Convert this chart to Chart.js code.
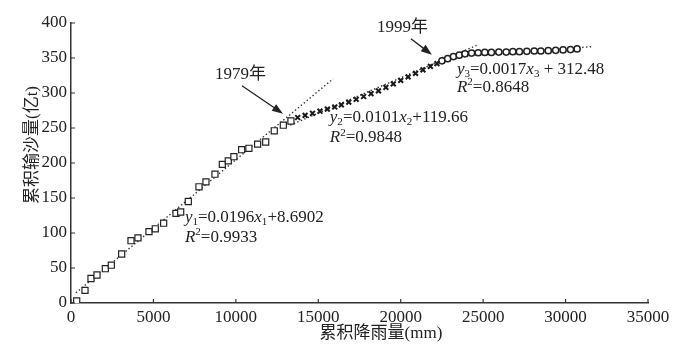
<!DOCTYPE html>
<html>
<head>
<meta charset="utf-8">
<script src="https://cdn.jsdelivr.net/npm/chart.js@4.4.1/dist/chart.umd.min.js"></script>
<style>html,body{margin:0;padding:0;background:#fff}</style>
</head>
<body>
<canvas id="chart" width="681" height="354"></canvas>
<script>
// 1979年以前 (squares)
const rain1 = [345, 850, 1213, 1577, 2082, 2446, 3073, 3639, 4063, 4730, 5112, 5620, 6368, 6653,
  7115, 7762, 8187, 8733, 9180, 9540, 9880, 10350, 10790, 11320, 11810, 12330, 12880, 13340];
const sed1 = [3, 18, 35, 40, 49, 54, 70, 89, 93, 102, 106, 114, 128, 130,
  145, 166, 173, 184, 198, 203, 209, 219, 221, 227, 230, 246, 254, 260];
// 1979-1999 (x marks)
const rain2 = [13750, 14200, 14650, 15100, 15550, 16000, 16400, 16850, 17300, 17750,
  18200, 18650, 19100, 19550, 20000, 20450, 20900, 21350, 21800, 22200];
const sed2 = [265, 268, 271, 274, 277, 280, 283, 287, 291, 295,
  299, 303, 308, 313, 318, 323, 328, 333, 338, 342];
// 1999年以后 (circles)
const rain3 = [22500, 22850, 23200, 23550, 23900, 24300, 24700, 25100, 25500, 25950, 26400,
  26800, 27200, 27650, 28100, 28500, 28950, 29400, 29850, 30300, 30700];
const sed3 = [346, 349, 352, 354, 356, 357, 357.5, 358, 358, 358.5, 358.5,
  359, 359, 359.5, 360, 360, 360.5, 361, 361.5, 362, 363];
// fitted lines (end points)
const fit1 = [[300, 14.6], [15900, 320.3]];
const fit2 = [[13300, 254.0], [24600, 368.1]];
const fit3 = [[22500, 350.7], [31700, 366.4]];

const xTicks = [0, 5000, 10000, 15000, 20000, 25000, 30000, 35000];
const yTicks = [0, 50, 100, 150, 200, 250, 300, 350, 400];

const FONT = '"Liberation Serif", "Times New Roman", "Noto Sans CJK SC", serif';
const INK = '#222';

const pts = (xs, ys) => xs.map((x, i) => ({ x: x, y: ys[i] }));
const line = arr => arr.map(p => ({ x: p[0], y: p[1] }));

function drawRuns(ctx, x, y, parts, size) {
  let cx = x;
  ctx.textBaseline = 'middle';
  ctx.textAlign = 'left';
  for (const [t, s] of parts) {
    let fs = size, dy = 0, st = '';
    if (s === 'i') st = 'italic ';
    if (s === 'sub') { fs = size * 0.65; dy = size * 0.26; }
    if (s === 'sup') { fs = size * 0.65; dy = -size * 0.3; }
    ctx.font = st + fs + 'px ' + FONT;
    ctx.fillText(t, cx, y + dy);
    cx += ctx.measureText(t).width;
  }
}

function arrow(ctx, x1, y1, x2, y2) {
  const a = Math.atan2(y2 - y1, x2 - x1);
  const hl = 11, hw = 4;
  ctx.beginPath();
  ctx.moveTo(x1, y1);
  ctx.lineTo(x2 - Math.cos(a) * hl * 0.8, y2 - Math.sin(a) * hl * 0.8);
  ctx.lineWidth = 1.3;
  ctx.strokeStyle = INK;
  ctx.stroke();
  ctx.beginPath();
  ctx.moveTo(x2, y2);
  ctx.lineTo(x2 - Math.cos(a) * hl - Math.sin(a) * hw, y2 - Math.sin(a) * hl + Math.cos(a) * hw);
  ctx.lineTo(x2 - Math.cos(a) * hl + Math.sin(a) * hw, y2 - Math.sin(a) * hl - Math.cos(a) * hw);
  ctx.closePath();
  ctx.fillStyle = INK;
  ctx.fill();
}

const extras = {
  id: 'extras',
  afterDraw(chart) {
    const ctx = chart.ctx;
    const xs = chart.scales.x, ys = chart.scales.y;
    const X = v => xs.getPixelForValue(v), Y = v => ys.getPixelForValue(v);
    ctx.save();
    // inward ticks
    ctx.strokeStyle = '#333';
    ctx.lineWidth = 1.2;
    ctx.beginPath();
    xTicks.forEach(v => { ctx.moveTo(X(v), ys.bottom); ctx.lineTo(X(v), ys.bottom - 4); });
    yTicks.forEach(v => { ctx.moveTo(xs.left, Y(v)); ctx.lineTo(xs.left + 4, Y(v)); });
    ctx.stroke();

    ctx.fillStyle = INK;
    const fs = 17;
    drawRuns(ctx, X(6910), Y(122), [['y', 'i'], ['1', 'sub'], ['=0.0196', ''], ['x', 'i'], ['1', 'sub'], ['+8.6902', '']], fs);
    drawRuns(ctx, X(6910), Y(94), [['R', 'i'], ['2', 'sup'], ['=0.9933', '']], fs);
    drawRuns(ctx, X(15700), Y(265), [['y', 'i'], ['2', 'sub'], ['=0.0101', ''], ['x', 'i'], ['2', 'sub'], ['+119.66', '']], fs);
    drawRuns(ctx, X(15700), Y(236), [['R', 'i'], ['2', 'sup'], ['=0.9848', '']], fs);
    drawRuns(ctx, X(23410), Y(333), [['y', 'i'], ['3', 'sub'], ['=0.0017', ''], ['x', 'i'], ['3', 'sub'], [' + 312.48', '']], fs);
    drawRuns(ctx, X(23410), Y(307.6), [['R', 'i'], ['2', 'sup'], ['=0.8648', '']], fs);

    drawRuns(ctx, X(8730), Y(326), [['1979年', '']], fs);
    arrow(ctx, X(10370), Y(310.4), X(12860), Y(270.4));
    drawRuns(ctx, X(18560), Y(393), [['1999年', '']], fs);
    arrow(ctx, X(20620), Y(377.6), X(21890), Y(354.7));

    // axis titles
    ctx.font = '17px ' + FONT;
    ctx.textAlign = 'center';
    ctx.textBaseline = 'middle';
    ctx.fillText('累积降雨量(mm)', 381, 334);
    ctx.translate(33, 145);
    ctx.rotate(-Math.PI / 2);
    ctx.fillText('累积输沙量(亿t)', 0, 0);
    ctx.restore();
  }
};

const dotted = { borderColor: '#333', borderWidth: 1.4, borderDash: [1.4, 2.4], pointRadius: 0, fill: false, showLine: true };

new Chart(document.getElementById('chart'), {
  type: 'scatter',
  data: {
    datasets: [
      { data: pts(rain1, sed1), pointStyle: 'rect', pointRadius: 4.3, borderColor: '#222', backgroundColor: '#fff', borderWidth: 1.2 },
      { data: pts(rain2, sed2), pointStyle: 'crossRot', pointRadius: 3.4, borderColor: '#1a1a1a', borderWidth: 2 },
      { data: pts(rain3, sed3), pointStyle: 'circle', pointRadius: 3.1, borderColor: '#222', backgroundColor: '#fff', borderWidth: 1.5 },
      Object.assign({ data: line(fit1) }, dotted),
      Object.assign({ data: line(fit2) }, dotted),
      Object.assign({ data: line(fit3) }, dotted)
    ]
  },
  options: {
    responsive: false,
    animation: false,
    layout: { padding: { top: 23, right: 33, left: 0, bottom: 0 } },
    plugins: { legend: { display: false }, tooltip: { enabled: false } },
    scales: {
      x: {
        type: 'linear', min: 0, max: 35000,
        afterBuildTicks: s => { s.ticks = xTicks.map(v => ({ value: v })); },
        afterFit: s => { s.height = 51; },
        grid: { display: true, drawOnChartArea: false, drawTicks: false },
        border: { display: true, color: '#333', width: 1.5 },
        ticks: { font: { family: FONT, size: 17 }, color: INK, padding: 4, maxRotation: 0, autoSkip: false, callback: v => String(v) }
      },
      y: {
        type: 'linear', min: 0, max: 400,
        afterBuildTicks: s => { s.ticks = yTicks.map(v => ({ value: v })); },
        afterFit: s => { s.width = 71; },
        grid: { display: true, drawOnChartArea: false, drawTicks: false },
        border: { display: true, color: '#333', width: 1.5 },
        ticks: { font: { family: FONT, size: 17 }, color: INK, padding: 4, callback: v => String(v) }
      }
    }
  },
  plugins: [extras]
});
</script>
</body>
</html>
